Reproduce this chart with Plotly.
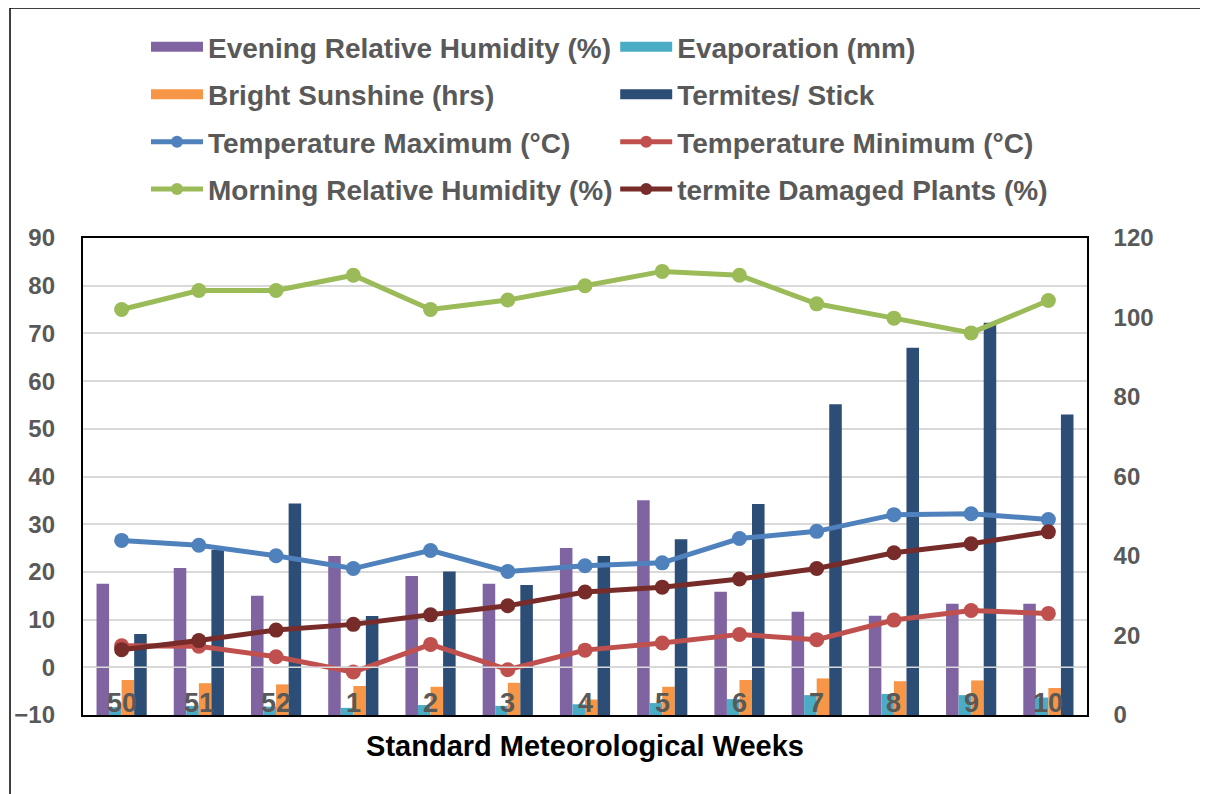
import plotly.graph_objects as go

weeks = ["50", "51", "52", "1", "2", "3", "4", "5", "6", "7", "8", "9", "10"]

# Bars (right axis, 0-120)
evening_rh = [33, 37, 30, 40, 35, 33, 42, 54, 31, 26, 25, 28, 28]
evaporation = [2.0, 2.3, 2.1, 1.8, 2.5, 2.3, 2.7, 3.0, 4.0, 5.0, 5.3, 5.0, 4.4]
sunshine = [8.8, 8.0, 7.7, 7.3, 7.1, 8.1, 3.9, 7.1, 8.8, 9.2, 8.5, 8.7, 6.8]
termites = [20.4, 41.5, 53.2, 24.9, 36.1, 32.7, 40.0, 44.2, 53.1, 78.2, 92.4, 98.7, 75.6]

# Lines (left axis, -10 to 90)
temp_max = [26.6, 25.6, 23.4, 20.7, 24.5, 20.1, 21.3, 21.9, 27.0, 28.5, 32.0, 32.2, 31.0]
temp_min = [4.5, 4.4, 2.2, -1.0, 4.8, -0.5, 3.6, 5.1, 6.9, 5.8, 9.9, 11.9, 11.3]
morning_rh = [75.0, 79.0, 79.0, 82.2, 75.0, 77.0, 80.0, 83.0, 82.2, 76.2, 73.2, 70.1, 76.9]
damaged = [3.7, 5.6, 7.8, 9.0, 11.0, 12.9, 15.8, 16.8, 18.5, 20.7, 24.0, 25.9, 28.4]

C_PURPLE = "#8064A2"
C_CYAN = "#4BACC6"
C_ORANGE = "#F79646"
C_NAVY = "#2C4D75"
C_BLUE = "#4F81BD"
C_RED = "#C0504D"
C_GREEN = "#9BBB59"
C_DARKRED = "#772C2A"

FONT = "Liberation Sans, Arial, sans-serif"
GREY = "#595959"

fig = go.Figure()

bars = [
    ("Evening Relative Humidity (%)", evening_rh, C_PURPLE),
    ("Evaporation (mm)", evaporation, C_CYAN),
    ("Bright Sunshine (hrs)", sunshine, C_ORANGE),
    ("Termites/ Stick", termites, C_NAVY),
]
for name, vals, col in bars:
    fig.add_trace(go.Bar(x=weeks, y=vals, name=name, marker_color=col,
                         marker_line_width=0, yaxis="y", showlegend=False))

lines = [
    ("Temperature Maximum (°C)", temp_max, C_BLUE),
    ("Temperature Minimum (°C)", temp_min, C_RED),
    ("Morning Relative Humidity (%)", morning_rh, C_GREEN),
    ("termite Damaged Plants (%)", damaged, C_DARKRED),
]
for name, vals, col in lines:
    fig.add_trace(go.Scatter(x=weeks, y=vals, name=name, mode="lines+markers",
                             line=dict(color=col, width=5),
                             marker=dict(color=col, size=15),
                             yaxis="y2", showlegend=False))

# legend entries (bars shown as wide swatches, lines with markers)
legend_items = [
    ("Evening Relative Humidity (%)", C_PURPLE, "bar", "legend", 1),
    ("Bright Sunshine (hrs)", C_ORANGE, "bar", "legend", 2),
    ("Temperature Maximum (°C)", C_BLUE, "line", "legend", 3),
    ("Morning Relative Humidity (%)", C_GREEN, "line", "legend", 4),
    ("Evaporation (mm)", C_CYAN, "bar", "legend2", 1),
    ("Termites/ Stick", C_NAVY, "bar", "legend2", 2),
    ("Temperature Minimum (°C)", C_RED, "line", "legend2", 3),
    ("termite Damaged Plants (%)", C_DARKRED, "line", "legend2", 4),
]
for name, col, kind, lg, rank in legend_items:
    if kind == "bar":
        fig.add_trace(go.Scatter(x=[None], y=[None], name=name, mode="lines",
                                 line=dict(color=col, width=14), legend=lg,
                                 legendgroup=name, legendrank=rank, yaxis="y2"))
    else:
        fig.add_trace(go.Scatter(x=[None], y=[None], name=name, mode="lines+markers",
                                 line=dict(color=col, width=5),
                                 marker=dict(color=col, size=12), legend=lg,
                                 legendgroup=name, legendrank=rank, yaxis="y2"))

leg_common = dict(
    orientation="v", yanchor="top", xanchor="left",
    xref="container", yref="container",
    font=dict(family=FONT, size=28, color=GREY, weight="bold"),
    bgcolor="rgba(0,0,0,0)", traceorder="grouped", tracegroupgap=8,
    itemwidth=52, itemsizing="trace",
)

annotations = [
    dict(x=i, y=0, xref="x", yref="paper", text=w, showarrow=False,
         yanchor="bottom", yshift=-5,
         font=dict(family=FONT, size=27, color=GREY, weight="bold"))
    for i, w in enumerate(weeks)
]

fig.update_layout(
    width=1200, height=786,
    margin=dict(l=75, r=121, t=230, b=79, autoexpand=False),
    paper_bgcolor="white", plot_bgcolor="white",
    barmode="group", bargap=0.35, bargroupgap=0,
    font=dict(family=FONT, color=GREY),
    legend=dict(x=0.115, y=0.982, **leg_common),
    legend2=dict(x=0.506, y=0.982, **leg_common),
    annotations=annotations,
    xaxis=dict(
        type="category", range=[-0.5, len(weeks) - 0.5], automargin=False,
        showline=True, mirror=True, linecolor="black", linewidth=1.5,
        ticks="", showticklabels=False,
        title=dict(text="Standard Meteorological Weeks", standoff=20,
                   font=dict(family=FONT, size=29, color="black", weight="bold")),
        showgrid=False,
    ),
    yaxis=dict(
        side="right", range=[0, 120], dtick=20, showgrid=False, zeroline=False,
        showline=True, mirror=True, linecolor="black", linewidth=1.5,
        ticks="", ticklabelstandoff=20, automargin=False,
        tickfont=dict(family=FONT, size=24, color=GREY, weight="bold"),
    ),
    yaxis2=dict(
        overlaying="y", side="left", range=[-10, 90], dtick=10,
        showgrid=True, gridcolor="#D9D9D9", gridwidth=1.5, zeroline=False,
        showline=False, ticks="", ticklabelstandoff=27, automargin=False,
        tickfont=dict(family=FONT, size=24, color=GREY, weight="bold"),
    ),
    shapes=[
        dict(type="line", xref="paper", yref="y2", x0=0, x1=1, y0=0, y1=0,
             line=dict(color="#D9D9D9", width=1.5), layer="above"),
        dict(type="line", xref="paper", yref="paper", x0=-0.0727, x1=-0.0727,
             y0=-0.17, y1=1.482, line=dict(color="black", width=1.5)),
        dict(type="line", xref="paper", yref="paper", x0=-0.0727, x1=1.13,
             y0=1.482, y1=1.482, line=dict(color="black", width=1.5)),
    ],
)

fig.write_html("out.html")
